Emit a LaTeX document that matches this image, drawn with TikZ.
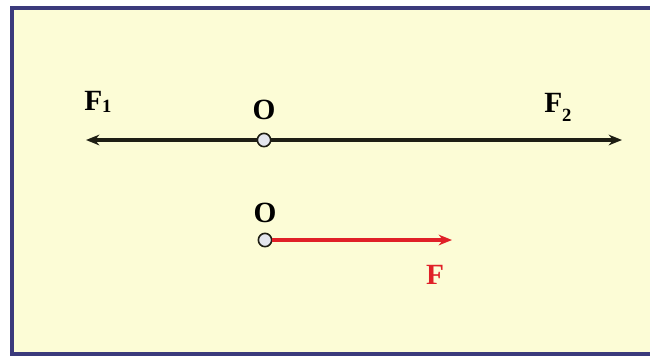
\documentclass[tikz,border=0pt]{standalone}
\usepackage{fontspec}
\setmainfont{Liberation Serif}
\usetikzlibrary{arrows.meta}
\definecolor{bgyel}{HTML}{FCFCD6}
\definecolor{navy}{HTML}{3B3A7C}
\definecolor{darkline}{HTML}{1E1E14}
\definecolor{redline}{HTML}{E02028}
\definecolor{ptfill}{HTML}{E4E6EE}
\tikzset{
  lbl/.style={font=\fontsize{22}{24}\selectfont\bfseries, inner sep=0pt},
  pt/.style={circle, draw=darkline, fill=ptfill, line width=1.2pt, minimum size=10pt, inner sep=0pt},
  force/.style={line width=3pt, -{Stealth[length=10pt,width=8pt]}},
}
\begin{document}
\begin{tikzpicture}[x=0.75pt,y=-0.75pt]
\useasboundingbox (0,0) rectangle (650,358);
\fill[white] (0,0) rectangle (650,358);
\draw[navy, line width=3pt, fill=bgyel] (12,8) rectangle (670,354);
% top line
\coordinate (L) at (86,140);
\coordinate (R) at (622,140);
\node[pt] (O1) at (264,140) {};
\draw[force, darkline] (O1) -- (R);
\draw[force, darkline] (O1) -- (L);
\node[lbl] (o1l) at (264,110) {O};
\node[lbl, anchor=base west] (f1) at (84,110) {F\raisebox{-2pt}{\fontsize{14}{14}\selectfont 1}};
\node[lbl, anchor=base west] (f2) at (544,112) {F\raisebox{-7pt}{\fontsize{14}{14}\selectfont 2}};
% bottom
\node[pt] (O2) at (265,240) {};
\coordinate (Fend) at (452,240);
\draw[force, redline, line width=3.5pt] (O2) -- (Fend);
\node[lbl] (o2l) at (265,213) {O};
\node[lbl, text=redline] (fl) at (435,275) {F};
\end{tikzpicture}
\end{document}
